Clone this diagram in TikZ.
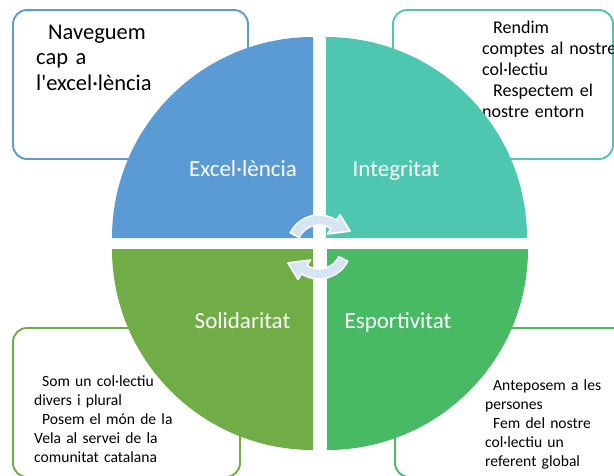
\documentclass[tikz,border=0pt]{standalone}
\usepackage{fontspec}
\setmainfont{Carlito}[Ligatures=TeXOff]
\usetikzlibrary{calc}
\definecolor{qblue}{HTML}{5B9BD5}
\definecolor{qteal}{HTML}{4EC7B1}
\definecolor{qgreenL}{HTML}{70AD47}
\definecolor{qgreenR}{HTML}{47BA63}
\definecolor{arrowfill}{HTML}{D6E5F4}
\begin{document}
\begin{tikzpicture}[x=1pt,y=-1pt,
  box/.style={draw, line width=1.9pt, fill=white, rounded corners=14pt},
  boxtext/.style={anchor=base west, inner sep=0pt, align=left, text width=#1},
  qlabel/.style={anchor=base, inner sep=0pt, text=white, font=\fontsize{23}{28}\selectfont},
  cyc/.style={fill=arrowfill, draw=white, line width=1.6pt, line join=round}]
\useasboundingbox (0,0) rectangle (614,475);
% boxes
\draw[box, draw=qblue] (13,10) rectangle (248,159);
\draw[box, draw=qteal] (393,10) rectangle (613,159);
\draw[box, draw=qgreenL] (13,328) rectangle (240,477);
\draw[box, draw=qgreenR] (395,328) rectangle (640,477);
% box texts
\node[boxtext=200pt, font=\fontsize{22.5}{25.5}\selectfont] (tTL) at (36,39)
  {\hspace*{12pt}Naveguem\\cap a\\l'excel·lència};
\node[boxtext=160pt, font=\fontsize{18}{21}\selectfont] (tTR) at (482,33.5)
  {\hspace*{11pt}Rendim\\comptes al nostre\\col·lectiu\\\hspace*{11pt}Respectem el\\nostre entorn};
\node[boxtext=160pt, font=\fontsize{15.6}{19}\selectfont] (tBL) at (34,386)
  {\hspace*{8pt}Som un col·lectiu\\divers i plural\\\hspace*{8pt}Posem el món de la\\Vela al servei de la\\comunitat catalana};
\node[boxtext=160pt, font=\fontsize{15.6}{19}\selectfont] (tBR) at (485,390)
  {\hspace*{8pt}Anteposem a les\\persones\\\hspace*{8pt}Fem del nostre\\col·lectiu un\\referent global};
% quadrants
\coordinate (cTL) at (313,238);
\coordinate (cTR) at (326,238);
\coordinate (cBL) at (313,249);
\coordinate (cBR) at (327,249);
\fill[qblue] (cTL) -- ++(180:201) arc[start angle=180, end angle=270, radius=201] -- cycle;
\fill[qteal] (cTR) -- ++(270:201) arc[start angle=270, end angle=360, radius=201] -- cycle;
\fill[qgreenL] (cBL) -- ++(90:201) arc[start angle=90, end angle=180, radius=201] -- cycle;
\fill[qgreenR] (cBR) -- ++(0:201) arc[start angle=0, end angle=90, radius=201] -- cycle;
% labels
\node[qlabel] (lE) at (243,176) {Excel·lència};
\node[qlabel] (lI) at (396,176) {Integritat};
\node[qlabel] (lS) at (242.5,328) {Solidaritat};
\node[qlabel] (lP) at (398,328) {Esportivitat};
% cycle arrows
\coordinate (O) at (319,247);
\path[cyc] ($(O)+(-154:32)$) arc[start angle=-154, end angle=-57, radius=32]
  -- ($(O)+(-57:38.5)$) -- ($(O)+(-27:35)$) -- ($(O)+(-57:15.5)$) -- ($(O)+(-57:22)$)
  arc[start angle=-57, end angle=-154, radius=22] -- cycle;
\path[cyc] ($(O)+(26:32)$) arc[start angle=26, end angle=123, radius=32]
  -- ($(O)+(123:38.5)$) -- ($(O)+(153:35)$) -- ($(O)+(123:15.5)$) -- ($(O)+(123:22)$)
  arc[start angle=123, end angle=26, radius=22] -- cycle;
\end{tikzpicture}
\end{document}
